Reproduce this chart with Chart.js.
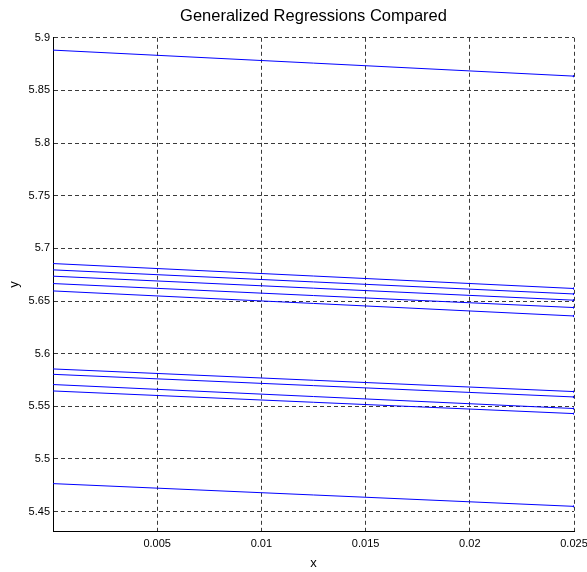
<!DOCTYPE html>
<html>
<head>
<meta charset="utf-8">
<script src="https://cdn.jsdelivr.net/npm/chart.js@4/dist/chart.umd.min.js"></script>
<style>
  html, body { margin: 0; padding: 0; background: #fff; }
  #wrap { width: 587px; height: 572px; }
</style>
</head>
<body>
<div id="wrap"><canvas id="chart"></canvas></div>
<script>
// === Data ===
const xRange = [0, 0.025];
const startValues = [5.8883, 5.6856, 5.6796, 5.6736, 5.6666, 5.6596, 5.5855, 5.5804, 5.5707, 5.5646, 5.4766];
const endValues = [5.8636, 5.6619, 5.6567, 5.6508, 5.6438, 5.6358, 5.5640, 5.5589, 5.5479, 5.5431, 5.4550];
const xTicks = [0.005, 0.01, 0.015, 0.02, 0.025];
const yTicks = [5.45, 5.5, 5.55, 5.6, 5.65, 5.7, 5.75, 5.8, 5.85, 5.9];

const datasets = startValues.map((v, i) => ({
  data: [{ x: xRange[0], y: v }, { x: xRange[1], y: endValues[i] }],
  borderColor: "#0000ff",
  backgroundColor: "#0000ff",
  borderWidth: 1,
  pointRadius: [0, 1.2],
  pointBorderWidth: 0,
  fill: false
}));

const gridOpts = { color: "#3a3a3a", lineWidth: 1, drawTicks: false };
const borderOpts = { display: true, color: "#000", width: 1, dash: [4, 3] };

new Chart(document.getElementById("chart"), {
  type: "line",
  data: { datasets },
  options: {
    responsive: true,
    maintainAspectRatio: false,
    animation: false,
    layout: { padding: { top: 1, right: 13, left: 0, bottom: 0 } },
    plugins: {
      legend: { display: false },
      tooltip: { enabled: false },
      title: {
        display: true,
        fullSize: false,
        text: "Generalized Regressions Compared",
        color: "#000",
        font: { family: "Liberation Sans, Arial, sans-serif", size: 16.5, weight: "normal" },
        padding: { top: 6, bottom: 11 }
      }
    },
    scales: {
      x: {
        type: "linear",
        min: xRange[0],
        max: xRange[1],
        grid: gridOpts,
        border: borderOpts,
        afterBuildTicks: (scale) => { scale.ticks = xTicks.map(v => ({ value: v })); },
        afterFit: (scale) => { scale.height = 41; scale.paddingRight = 0; scale.paddingLeft = 0; },
        ticks: {
          color: "#000",
          padding: 6,
          maxRotation: 0,
          font: { family: "Liberation Sans, Arial, sans-serif", size: 11 },
          callback: (v) => String(v)
        },
        title: {
          display: true,
          text: "x",
          color: "#000",
          padding: { top: 0, bottom: 1 },
          font: { family: "Liberation Sans, Arial, sans-serif", size: 13 }
        }
      },
      y: {
        type: "linear",
        min: 5.4316,
        max: 5.9,
        grid: gridOpts,
        border: borderOpts,
        afterBuildTicks: (scale) => { scale.ticks = yTicks.map(v => ({ value: v })); },
        afterFit: (scale) => { scale.width = 53; scale.paddingTop = 0; scale.paddingBottom = 0; },
        ticks: {
          color: "#000",
          padding: 3,
          font: { family: "Liberation Sans, Arial, sans-serif", size: 11 },
          callback: (v) => String(v)
        },
        title: {
          display: true,
          text: "y",
          color: "#000",
          padding: { top: 7, bottom: 0 },
          font: { family: "Liberation Sans, Arial, sans-serif", size: 13 }
        }
      }
    }
  }
});
</script>
</body>
</html>
